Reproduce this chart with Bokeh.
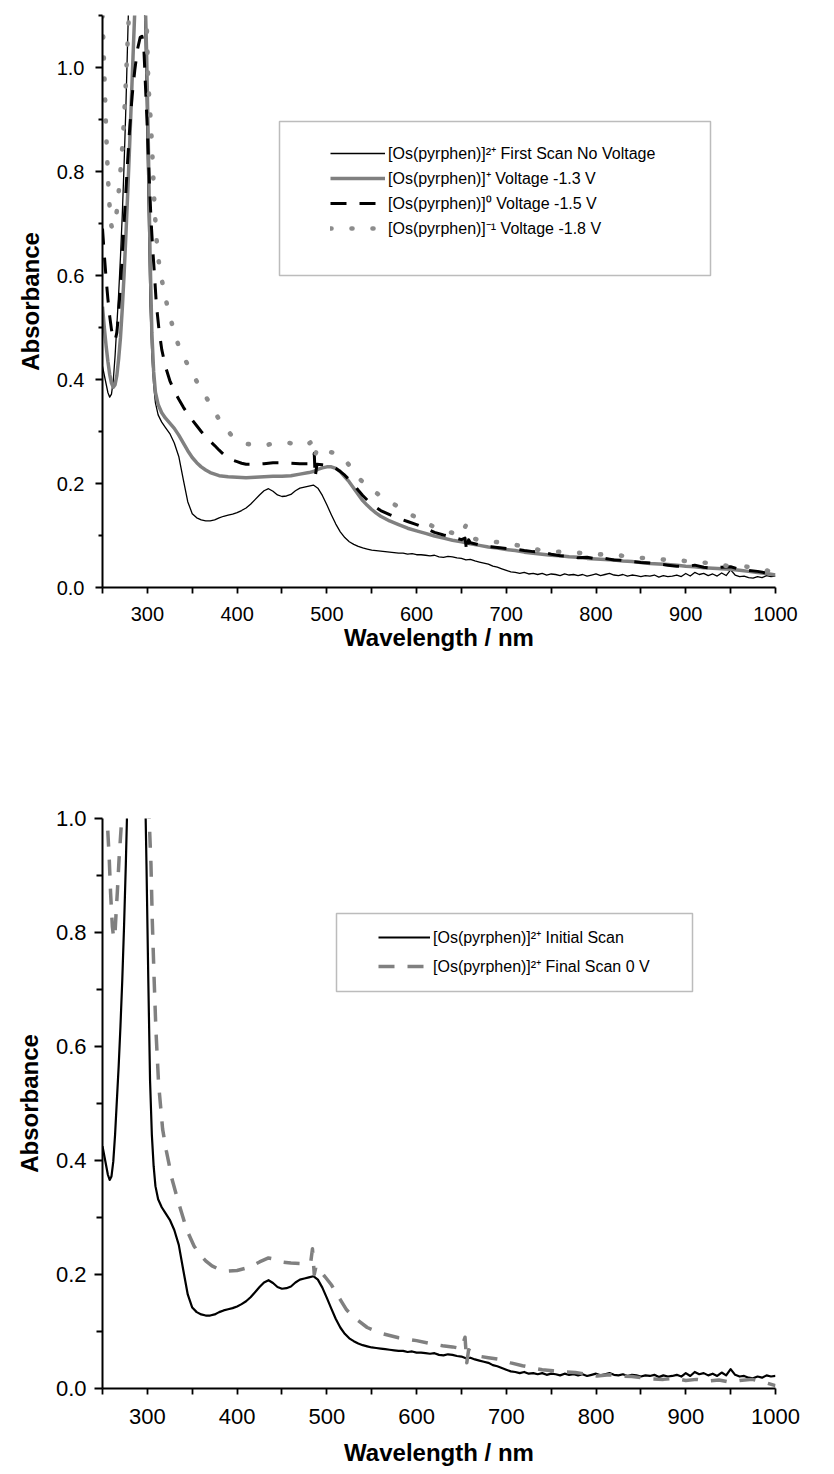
from bokeh.plotting import figure
from bokeh.models import (FixedTicker, PrintfTickFormatter, Legend, LegendItem,
                          BoxAnnotation, Range1d)
from bokeh.layouts import column
from bokeh.embed import file_html
from bokeh.resources import INLINE

FONT = "Liberation Sans"
GRAY = "#808080"
DOT_GRAY = "#8c8c8c"

# ---------------------------------------------------------------- data
# [Os(pyrphen)]2+ first / initial scan (no voltage)
first_wl = [250, 253, 256, 258, 260, 262, 264, 266, 268, 270, 272, 274, 276, 278, 280,
            283, 286, 289, 292, 295, 297, 299, 301, 303, 305, 307, 309, 312, 316, 320,
            325, 330, 335, 340, 345, 350, 355, 360, 365, 370, 375, 380, 385, 390, 395,
            400, 405, 410, 415, 420, 425, 430, 435, 440, 445, 450, 455, 460, 465, 470,
            475, 480, 485, 490, 495, 500, 505, 510, 515, 520, 525, 530, 535, 540, 545,
            550, 555, 560, 565, 570, 575, 580, 585, 590, 595, 600, 605, 610, 615, 620,
            625, 630, 635, 640, 645, 650, 655, 660, 665, 670, 675, 680, 685, 690, 695,
            700, 705, 710, 715, 720, 725, 730, 735, 740, 745, 750, 755, 760, 765, 770,
            775, 780, 785, 790, 795, 800, 805, 810, 815, 820, 825, 830, 835, 840, 845,
            850, 855, 860, 865, 870, 875, 880, 885, 890, 895, 900, 905, 910, 915, 920,
            925, 930, 935, 940, 945, 950, 955, 960, 965, 970, 975, 980, 985, 990, 995,
            1000]
first_abs = [0.425, 0.400, 0.375, 0.366, 0.372, 0.398, 0.445, 0.505, 0.565, 0.635, 0.715,
             0.810, 0.920, 1.050, 1.180, 1.350, 1.480, 1.520, 1.450, 1.270, 1.100, 0.920,
             0.720, 0.540, 0.445, 0.390, 0.355, 0.332, 0.318, 0.308, 0.296, 0.278, 0.252,
             0.208, 0.165, 0.142, 0.134, 0.130, 0.128, 0.128, 0.130, 0.134, 0.137, 0.139,
             0.141, 0.144, 0.148, 0.153, 0.160, 0.169, 0.178, 0.186, 0.190, 0.185, 0.178,
             0.175, 0.176, 0.179, 0.186, 0.191, 0.193, 0.195, 0.197, 0.191, 0.177, 0.159,
             0.140, 0.122, 0.107, 0.096, 0.088, 0.083, 0.079, 0.076, 0.074, 0.072, 0.071,
             0.070, 0.069, 0.068, 0.067, 0.066, 0.066, 0.064, 0.065, 0.063, 0.063, 0.062,
             0.061, 0.062, 0.059, 0.058, 0.060, 0.059, 0.057, 0.056, 0.053, 0.054, 0.051,
             0.049, 0.047, 0.045, 0.041, 0.039, 0.036, 0.033, 0.030, 0.029, 0.027, 0.029,
             0.026, 0.027, 0.025, 0.027, 0.024, 0.026, 0.025, 0.023, 0.026, 0.024, 0.025,
             0.023, 0.025, 0.022, 0.024, 0.026, 0.023, 0.025, 0.027, 0.024, 0.023, 0.025,
             0.022, 0.024, 0.023, 0.021, 0.023, 0.022, 0.024, 0.020, 0.023, 0.021, 0.022,
             0.024, 0.021, 0.027, 0.022, 0.029, 0.025, 0.027, 0.023, 0.026, 0.022, 0.028,
             0.023, 0.034, 0.024, 0.021, 0.022, 0.019, 0.018, 0.021, 0.019, 0.023, 0.021,
             0.022]

# [Os(pyrphen)]+ at -1.3 V
plus_wl = [250, 252, 254, 256, 258, 260, 262, 264, 266, 268, 270, 272, 274, 276, 278,
           280, 282, 284, 286, 289, 292, 295, 297, 299, 301, 303, 305, 307, 309, 312,
           316, 320, 325, 330, 335, 340, 345, 350, 355, 360, 365, 370, 375, 380, 390,
           400, 410, 420, 430, 440, 450, 460, 470, 480, 485, 490, 495, 500, 505, 510,
           515, 520, 525, 530, 535, 540, 545, 550, 555, 560, 570, 580, 590, 600, 610,
           620, 630, 640, 650, 660, 670, 680, 690, 700, 710, 720, 730, 740, 750, 760,
           770, 780, 790, 800, 810, 820, 830, 840, 850, 860, 870, 880, 890, 900, 910,
           920, 930, 940, 950, 960, 970, 980, 990, 1000]
plus_abs = [0.540, 0.500, 0.465, 0.435, 0.410, 0.393, 0.385, 0.390, 0.408, 0.440, 0.480,
            0.535, 0.600, 0.675, 0.755, 0.840, 0.930, 1.020, 1.110, 1.240, 1.300, 1.260,
            1.170, 1.040, 0.860, 0.640, 0.490, 0.415, 0.375, 0.352, 0.336, 0.326, 0.316,
            0.306, 0.293, 0.278, 0.263, 0.250, 0.240, 0.232, 0.226, 0.221, 0.218, 0.215,
            0.213, 0.212, 0.211, 0.212, 0.213, 0.214, 0.214, 0.215, 0.218, 0.221, 0.223,
            0.227, 0.230, 0.232, 0.232, 0.229, 0.223, 0.213, 0.203, 0.191, 0.179, 0.167,
            0.158, 0.150, 0.143, 0.137, 0.128, 0.121, 0.114, 0.109, 0.104, 0.099, 0.095,
            0.091, 0.088, 0.084, 0.081, 0.078, 0.076, 0.073, 0.071, 0.068, 0.066, 0.064,
            0.062, 0.061, 0.059, 0.058, 0.056, 0.055, 0.054, 0.053, 0.051, 0.050, 0.048,
            0.046, 0.045, 0.044, 0.043, 0.041, 0.040, 0.038, 0.037, 0.036, 0.035, 0.033,
            0.031, 0.029, 0.027, 0.024]

# [Os(pyrphen)]0 at -1.5 V
zero_wl = [250, 252, 254, 256, 258, 260, 262, 264, 266, 268, 270, 272, 274, 276, 278,
           280, 283, 286, 289, 292, 294, 296, 298, 300, 302, 304, 306, 308, 310, 313,
           316, 320, 325, 330, 335, 340, 345, 350, 355, 360, 365, 370, 375, 380, 385,
           390, 395, 400, 405, 410, 420, 430, 440, 450, 460, 470, 480, 484, 486, 487,
           489, 495, 500, 505, 510, 515, 520, 525, 530, 535, 540, 545, 550, 555, 560,
           570, 580, 590, 600, 610, 620, 630, 640, 650, 654, 656, 658, 660, 670, 680,
           690, 700, 710, 720, 730, 740, 750, 760, 770, 780, 790, 800, 810, 820, 830,
           840, 850, 860, 870, 880, 890, 900, 910, 920, 930, 940, 950, 960, 970, 980,
           990, 1000]
zero_abs = [0.690, 0.640, 0.595, 0.555, 0.522, 0.496, 0.480, 0.475, 0.490, 0.530, 0.580,
            0.640, 0.700, 0.760, 0.820, 0.875, 0.945, 0.995, 1.035, 1.058, 1.060, 1.040,
            0.960, 0.880, 0.790, 0.710, 0.650, 0.600, 0.545, 0.495, 0.458, 0.426, 0.398,
            0.378, 0.362, 0.347, 0.334, 0.322, 0.311, 0.300, 0.290, 0.281, 0.273, 0.264,
            0.256, 0.250, 0.245, 0.242, 0.239, 0.237, 0.237, 0.238, 0.240, 0.240, 0.239,
            0.238, 0.238, 0.240, 0.258, 0.212, 0.237, 0.236, 0.235, 0.233, 0.229, 0.223,
            0.216, 0.207, 0.198, 0.187, 0.177, 0.168, 0.160, 0.154, 0.148, 0.140, 0.133,
            0.127, 0.121, 0.114, 0.106, 0.101, 0.097, 0.092, 0.095, 0.068, 0.092, 0.086,
            0.082, 0.079, 0.077, 0.075, 0.074, 0.071, 0.069, 0.068, 0.064, 0.061, 0.060,
            0.057, 0.058, 0.055, 0.056, 0.053, 0.052, 0.050, 0.048, 0.047, 0.045, 0.043,
            0.041, 0.040, 0.043, 0.039, 0.037, 0.039, 0.040, 0.035, 0.033, 0.031, 0.028,
            0.026]

# [Os(pyrphen)]-1 at -1.8 V
minus_wl = [250, 252, 254, 256, 258, 260, 262, 264, 266, 268, 270, 272, 274, 276, 278,
            280, 285, 290, 295, 299, 301, 304, 306, 308, 311, 314, 318, 323, 329, 336,
            346, 357, 369, 380, 394, 405, 412, 420, 430, 441, 450, 458, 468, 477, 485,
            487, 490, 498, 510, 518, 525, 534, 543, 551, 560, 570, 583, 595, 610, 620,
            628, 640, 650, 655, 658, 672, 692, 713, 734, 752, 770, 785, 800, 819, 835,
            850, 865, 880, 900, 919, 932, 944, 960, 976, 990, 1000]
minus_abs = [1.100, 0.990, 0.880, 0.790, 0.730, 0.695, 0.690, 0.700, 0.725, 0.760, 0.800,
             0.845, 0.900, 0.970, 1.050, 1.120, 1.300, 1.380, 1.300, 1.100, 0.970, 0.890,
             0.815, 0.730, 0.650, 0.610, 0.575, 0.535, 0.497, 0.458, 0.425, 0.390, 0.356,
             0.323, 0.292, 0.280, 0.276, 0.274, 0.273, 0.277, 0.278, 0.278, 0.275, 0.273,
             0.283, 0.255, 0.270, 0.263, 0.258, 0.250, 0.235, 0.213, 0.198, 0.187, 0.176,
             0.165, 0.152, 0.139, 0.125, 0.116, 0.111, 0.105, 0.099, 0.120, 0.097, 0.090,
             0.087, 0.081, 0.073, 0.069, 0.068, 0.066, 0.064, 0.063, 0.060, 0.057, 0.055,
             0.053, 0.051, 0.048, 0.046, 0.042, 0.041, 0.039, 0.033, 0.027]

# [Os(pyrphen)]2+ final scan back at 0 V
final_wl = [250, 253, 255.5, 257.5, 259, 261, 262.5, 264, 265, 266.5, 268.5, 271, 274,
            280, 286, 291, 296, 300, 302, 304, 305.5, 307.5, 309.5, 312.5, 317, 321,
            324, 327, 334, 344, 352, 358, 365, 372, 380, 390, 400, 414, 425, 435, 442,
            450, 460, 473, 482, 484, 486, 488, 498, 505, 515, 522, 530, 545, 560, 580,
            600, 615, 629, 640, 650, 654, 656, 658, 668, 680, 693, 705, 718, 730, 740,
            752, 765, 777, 790, 801, 815, 826, 840, 850, 862, 875, 888, 900, 912, 925,
            937, 949, 960, 974, 985, 1000]
final_abs = [1.080, 1.040, 0.990, 0.930, 0.870, 0.810, 0.790, 0.800, 0.830, 0.870, 0.930,
             0.990, 1.070, 1.280, 1.450, 1.500, 1.400, 1.160, 1.000, 0.920, 0.820, 0.720,
             0.630, 0.535, 0.455, 0.418, 0.395, 0.370, 0.330, 0.278, 0.250, 0.236, 0.224,
             0.215, 0.209, 0.206, 0.207, 0.213, 0.222, 0.229, 0.227, 0.222, 0.220, 0.219,
             0.221, 0.245, 0.200, 0.215, 0.196, 0.182, 0.156, 0.138, 0.125, 0.107, 0.097,
             0.089, 0.084, 0.079, 0.075, 0.073, 0.070, 0.090, 0.045, 0.068, 0.057, 0.054,
             0.051, 0.045, 0.040, 0.036, 0.033, 0.031, 0.029, 0.028, 0.025, 0.022, 0.024,
             0.022, 0.021, 0.019, 0.017, 0.016, 0.018, 0.014, 0.016, 0.013, 0.015, 0.011,
             0.014, 0.016, 0.012, 0.005]

x_major = [300, 400, 500, 600, 700, 800, 900, 1000]
x_minor = [250, 350, 450, 550, 650, 750, 850, 950]
y_major = [0.0, 0.2, 0.4, 0.6, 0.8, 1.0]
y_minor_top = [0.1, 0.3, 0.5, 0.7, 0.9, 1.1]
y_minor_bottom = [0.1, 0.3, 0.5, 0.7, 0.9]

legend_top = ["[Os(pyrphen)]²⁺ First Scan No Voltage",
              "[Os(pyrphen)]⁺ Voltage -1.3 V",
              "[Os(pyrphen)]⁰ Voltage -1.5 V",
              "[Os(pyrphen)]⁻¹ Voltage -1.8 V"]
legend_bottom = ["[Os(pyrphen)]²⁺ Initial Scan",
                 "[Os(pyrphen)]²⁺ Final Scan 0 V"]

# ---------------------------------------------------------------- layout
W = 834
FRAME_L, FRAME_R = 102, 775
X0, X1 = 250, 1000


def style_axes(p, y_minor, tick_font, x_label_standoff, x_title_standoff,
               y_label_standoff, y_title_standoff, y_major_out, y_minor_out):
    p.grid.visible = False
    p.outline_line_color = None
    p.background_fill_color = "white"
    p.border_fill_color = "white"
    for ax in (p.xaxis[0], p.yaxis[0]):
        ax.axis_line_color = "black"
        ax.axis_line_width = 2
        ax.major_tick_line_color = "black"
        ax.major_tick_line_width = 1.8
        ax.minor_tick_line_color = "black"
        ax.minor_tick_line_width = 1.8
        ax.major_tick_in = 0
        ax.minor_tick_in = 0
        ax.major_label_text_font = FONT
        ax.major_label_text_font_size = tick_font
        ax.major_label_text_color = "black"
        ax.axis_label_text_font = FONT
        ax.axis_label_text_font_style = "bold"
        ax.axis_label_text_font_size = "24px"
        ax.axis_label_text_color = "black"
    xa, ya = p.xaxis[0], p.yaxis[0]
    xa.ticker = FixedTicker(ticks=x_major, minor_ticks=x_minor)
    xa.major_tick_out = 6
    xa.minor_tick_out = 6
    xa.major_label_standoff = x_label_standoff
    xa.axis_label = "Wavelength / nm"
    xa.axis_label_standoff = x_title_standoff
    ya.ticker = FixedTicker(ticks=y_major, minor_ticks=y_minor)
    ya.formatter = PrintfTickFormatter(format="%.1f")
    ya.major_tick_out = y_major_out
    ya.minor_tick_out = y_minor_out
    ya.major_label_standoff = y_label_standoff
    ya.axis_label = "Absorbance"
    ya.axis_label_standoff = y_title_standoff


def framed_legend(p, items, glyph_w, spacing, loc, box):
    # white box with a thin dark frame, legend rows laid on top of it
    left, right, bottom, top = box
    p.add_layout(BoxAnnotation(left=left, right=right, bottom=bottom, top=top,
                               fill_color="white", fill_alpha=1.0,
                               line_color="#222222", line_width=1.5))
    lg = Legend(items=items, location=loc, orientation="vertical",
                border_line_color=None, background_fill_alpha=0.0,
                padding=0, margin=0, spacing=spacing,
                glyph_width=glyph_w, glyph_height=20, label_height=20,
                label_standoff=3, label_text_font=FONT,
                label_text_font_size="16px", label_text_color="black")
    p.add_layout(lg, "center")


# ---- upper panel: reduction series
H1 = 700
TOP1, BOT1 = 15, 587
Y1 = 1.1
top = figure(width=W, height=H1, x_range=Range1d(X0, X1), y_range=Range1d(0, Y1),
             output_backend="svg", toolbar_location=None,
             min_border_left=FRAME_L, min_border_right=W - FRAME_R,
             min_border_top=TOP1, min_border_bottom=H1 - BOT1)
style_axes(top, y_minor_top, "20px", 13, 0, 11, 10, 7, 4)

r_first = top.line(first_wl, first_abs, line_color="black", line_width=1.3,
                   line_join="round")
r_plus = top.line(plus_wl, plus_abs, line_color=GRAY, line_width=3.5,
                  line_join="round")
r_zero = top.line(zero_wl, zero_abs, line_color="black", line_width=3,
                  line_dash="16 13", line_join="round")
r_minus = top.line(minus_wl, minus_abs, line_color=DOT_GRAY, line_width=4.6,
                   line_dash="1 20", line_cap="round", line_join="round")


def x_of(px):
    return X0 + (px - FRAME_L) * (X1 - X0) / (FRAME_R - FRAME_L)


def y1_of(py):
    return (BOT1 - py) * Y1 / (BOT1 - TOP1)


framed_legend(top,
              [LegendItem(label=legend_top[0], renderers=[r_first]),
               LegendItem(label=legend_top[1], renderers=[r_plus]),
               LegendItem(label=legend_top[2], renderers=[r_zero]),
               LegendItem(label=legend_top[3], renderers=[r_minus])],
              glyph_w=55, spacing=3, loc=(330 - FRAME_L, BOT1 - 239),
              box=(x_of(279), x_of(710), y1_of(275), y1_of(121)))

# ---- lower panel: initial vs final scan
H2 = 1474 - H1
TOP2, BOT2 = 818, 1388
Y2 = 1.0
bottom = figure(width=W, height=H2, x_range=Range1d(X0, X1), y_range=Range1d(0, Y2),
                output_backend="svg", toolbar_location=None,
                min_border_left=FRAME_L, min_border_right=W - FRAME_R,
                min_border_top=TOP2 - H1, min_border_bottom=1474 - BOT2)
style_axes(bottom, y_minor_bottom, "22px", 14, 12, 8, 10, 8, 6)

r_init = bottom.line(first_wl, first_abs, line_color="black", line_width=2.2,
                     line_join="round")
r_final = bottom.line(final_wl, final_abs, line_color=GRAY, line_width=3.5,
                      line_dash="16 13", line_join="round")


def y2_of(py):
    return (BOT2 - py) * Y2 / (BOT2 - TOP2)


framed_legend(bottom,
              [LegendItem(label=legend_bottom[0], renderers=[r_init]),
               LegendItem(label=legend_bottom[1], renderers=[r_final])],
              glyph_w=52, spacing=7, loc=(378 - FRAME_L, BOT2 - 977),
              box=(x_of(336), x_of(692), y2_of(991), y2_of(913)))

layout = column(top, bottom, spacing=0)
open("out.html", "w").write(file_html(layout, INLINE))
